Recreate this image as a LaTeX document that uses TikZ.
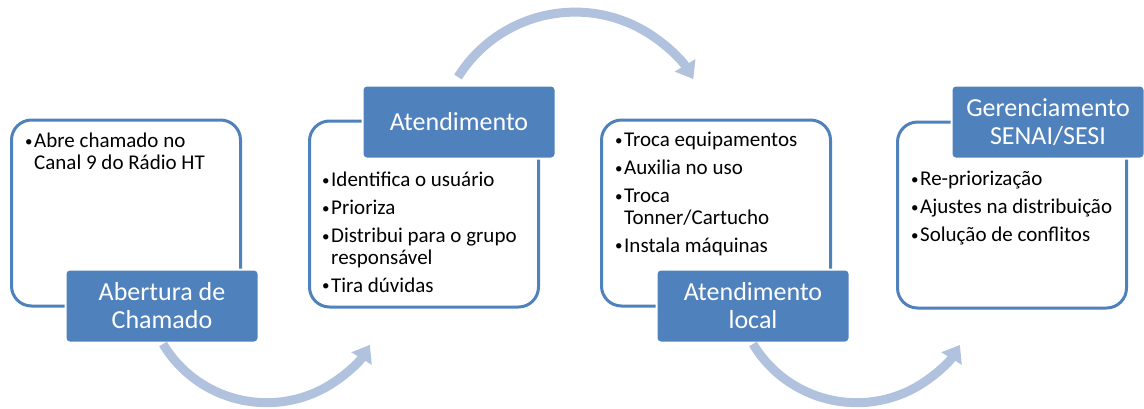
\documentclass[tikz,border=0pt]{standalone}
\usepackage{fontspec}
\setmainfont{Carlito}
\usetikzlibrary{arrows.meta}
\definecolor{boxblue}{RGB}{79,129,189}
\definecolor{arrowblue}{RGB}{177,194,222}
\newcommand{\bul}{\makebox[9pt][l]{\raisebox{1.5pt}{\fontsize{15}{15}\selectfont\textbullet}}}
\newcommand{\hang}{\hspace*{9pt}}
\begin{document}
\begin{tikzpicture}[
            x=1pt, y=-1pt,
            outline box/.style={draw=boxblue, line width=3pt, fill=white, rounded corners=20pt,
                minimum width=229pt, minimum height=186pt},
            title box/.style={fill=boxblue, draw=white, line width=2pt, rounded corners=4pt,
                minimum width=193pt, minimum height=73pt, text=white, align=center,
                font=\fontsize{26}{28}\selectfont},
            list text/.style={anchor=north west, inner sep=0pt, align=left,
                font=\fontsize{21}{21.5}\selectfont},
            flow arrow/.style={draw=arrowblue, line width=9pt, -{Triangle[length=16pt,width=23pt]}},
            ]
            \def\gap{6.5pt}
            \useasboundingbox (0,0) rectangle (1144,408);

            \node[outline box] (b1) at (126,213) {};
            \node[outline box] (b2) at (424,214) {};
            \node[outline box] (b3) at (716,213) {};
            \node[outline box] (b4) at (1012,215) {};

            \node[list text] (t1) at (25,133) {\bul Abre chamado no\\\hang Canal 9 do Rádio HT};
            \node[list text] (t2) at (322,172) {\bul Identifica o usuário\\[\gap]\bul Prioriza\\[\gap]
                \bul Distribui para o grupo\\\hang responsável\\[\gap]\bul Tira dúvidas};
            \node[list text] (t3) at (615,132) {\bul Troca equipamentos\\[\gap]\bul Auxilia no uso\\[\gap]
                \bul Troca\\\hang Tonner/Cartucho\\[\gap]\bul Instala máquinas};
            \node[list text] (t4) at (911,171) {\bul Re-priorização\\[\gap]\bul Ajustes na distribuição\\[\gap]
                \bul Solução de conflitos};

            \path (b1) ++(36,93) node[title box] (l1) {Abertura de\\Chamado};
            \path (b2) ++(35,-92) node[title box] (l2) {Atendimento};
            \path (b3) ++(37,93) node[title box] (l3) {Atendimento\\local};
            \path (b4) ++(36,-93) node[title box] (l4) {Gerenciamento\\SENAI/SESI};

            \coordinate (a1) at (163,344);
            \coordinate (a2) at (458,77);
            \coordinate (a3) at (753,344);
            \draw[flow arrow] (a1) arc[start angle=149, end angle=31.5, radius=121];
            \draw[flow arrow] (a2) arc[start angle=-148, end angle=-31, radius=138];
            \draw[flow arrow] (a3) arc[start angle=149, end angle=31.5, radius=121];
        \end{tikzpicture}
\end{document}
